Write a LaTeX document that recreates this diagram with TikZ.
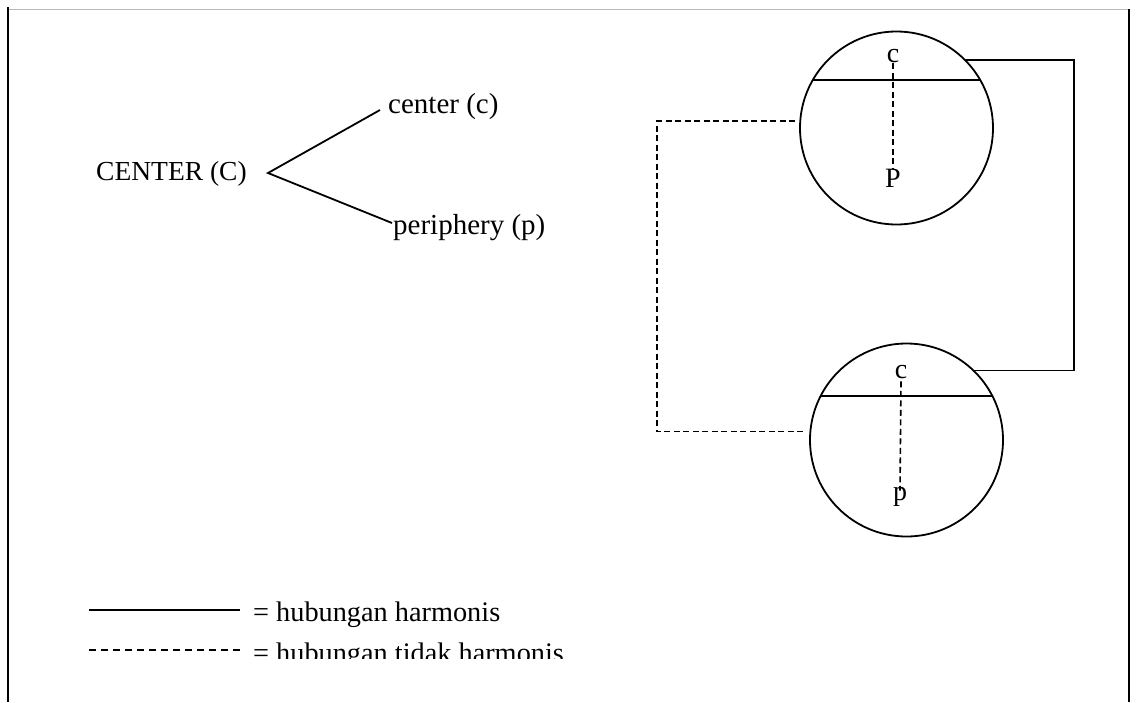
\documentclass[tikz,border=0pt]{standalone}
\usepackage{fontspec}
\setmainfont{Liberation Serif}
\begin{document}
\begin{tikzpicture}[x=1pt,y=-1pt,
  txt/.style={inner sep=0pt, anchor=base west, font=\fontsize{29}{33}\selectfont},
  lab/.style={inner sep=0pt, anchor=base, font=\fontsize{28}{32}\selectfont},
  link/.style={line width=1.8pt},
  nolink/.style={line width=1.6pt, dash pattern=on 6pt off 3.5pt},
  ring/.style={circle, draw, line width=1.8pt, minimum size=193pt, inner sep=0pt, outer sep=0pt},
  frame/.style={line width=1.8pt}]
\useasboundingbox (0,0) rectangle (1138,702);
% frame
\draw[gray!55, line width=0.9pt] (8,9) -- (1129,9);
\draw[frame] (8,7) -- (8,702);
\draw[frame] (1129,9) -- (1129,702);
% tree
\node[txt, font=\fontsize{27.5}{31}\selectfont] (C) at (96,180) {CENTER (C)};
\coordinate (apex) at (268,173);
\node[txt] (cc) at (388,113) {center (c)};
\node[txt] (pp) at (393,234) {periphery (p)};
\draw[link] ([xshift=-8pt,yshift=3pt]cc.base west) -- (apex) -- ([xshift=-1pt,yshift=11pt]pp.base west);
% circles
\node[ring] (c1) at (896.5,128) {};
\node[ring] (c2) at (906.5,440) {};
\draw[link] (c1.150) -- (c1.150 -| c1.30);
\draw[link] (c2.153) -- (c2.153 -| c2.27);
\node[lab] (c1c) at (893,62) {c};
\node[lab] (c1p) at (893,187) {P};
\node[lab] (c2c) at (901,378) {c};
\node[lab] (c2p) at (900,500) {p};
\draw[nolink] ([yshift=-1pt]c1c.south) -- (c1p.north);
\draw[nolink] ([yshift=-3pt]c2c.south) -- ([yshift=-4pt]c2p.north);
% right harmonic connector
\coordinate (rx) at (1074,0);
\draw[link] (c1.45) -- (c1.45 -| rx) -- (c2.46 -| rx) -- (c2.46);
% left non-harmonic connector
\coordinate (lx) at (657,0);
\draw[nolink] ([xshift=-5pt]c1.176) -- (c1.176 -| lx) -- (c2.175 -| lx) -- ([xshift=-5pt]c2.175);
% legend
\coordinate (s1) at (89,610);
\coordinate (s2) at (240,610);
\draw[line width=1.8pt] (s1) -- (s2);
\node[txt, font=\fontsize{28.3}{32}\selectfont] (h1) at (253,621) {= hubungan harmonis};
\coordinate (d1) at (89,650);
\coordinate (d2) at (242,650);
\draw[line width=1.2pt, dash pattern=on 7pt off 5pt] (d1) -- (d2);
\begin{scope}
\clip (240,600) rectangle (600,658);
\node[txt, font=\fontsize{28.3}{32}\selectfont] (h2) at (253,662) {= hubungan tidak harmonis};
\end{scope}
\end{tikzpicture}
\end{document}
